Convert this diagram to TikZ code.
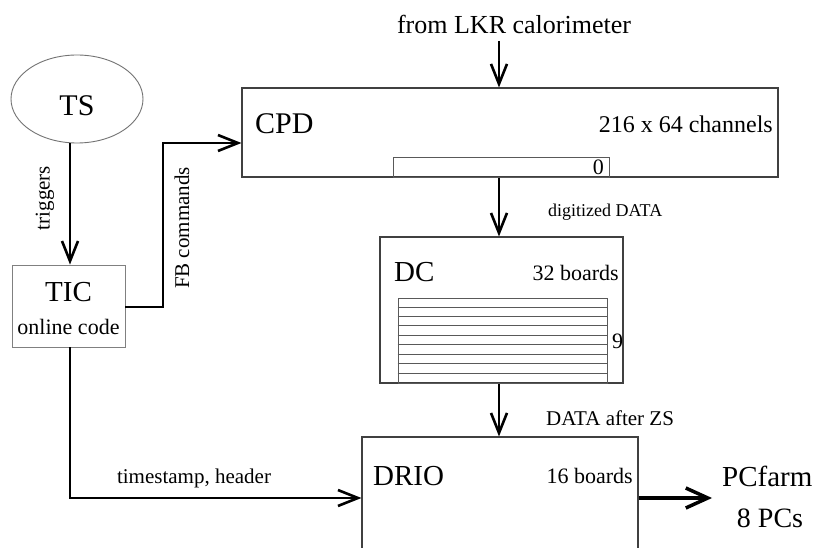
\documentclass[tikz,border=0pt]{standalone}
\usepackage{fontspec}
\setmainfont{Liberation Serif}
\usetikzlibrary{arrows.meta,shapes.geometric}
\tikzset{
  box/.style={draw=black!75, line width=1.1pt, inner sep=0pt, rectangle},
  graybox/.style={draw=black!50, line width=0.9pt, inner sep=0pt, rectangle},
  conn/.style={line width=2.8pt, -{Straight Barb[length=20pt,width=16pt,line width=2.6pt]}},
  bigconn/.style={line width=4.5pt, -{Straight Barb[length=22pt,width=20pt,line width=3.5pt]}},
  lbl/.style={inner sep=0pt, font=\fontsize{#1}{#1}\selectfont},
  lbl/.default=22
}
\begin{document}
\begin{tikzpicture}[x=1pt,y=-1pt]
\useasboundingbox[fill=white] (0,0) rectangle (817,548);

% boxes
\node[box, minimum width=536pt, minimum height=89pt] (cpd) at (510,132.5) {};
\node[box, minimum width=243pt, minimum height=146pt] (dc) at (501.5,310) {};
\node[box, minimum width=276pt, minimum height=140pt] (drio) at (500,507) {};
\node[graybox, minimum width=113pt, minimum height=82pt] (tic) at (68.5,306) {};
\node[ellipse, draw=black!55, line width=0.9pt, minimum width=132pt, minimum height=88pt, inner sep=0pt] (ts) at (77,99) {};

% inner boxes
\node[graybox, draw=black!65, minimum width=216pt, minimum height=20pt] (cpdin) at (501,167) {};
\node[graybox, draw=black!65, minimum width=209pt, minimum height=85pt] (dcin) at (502.5,340.5) {};
\foreach \i in {1,...,8} {
  \draw[black!65, line width=0.9pt] ([yshift=-\i*9.44pt]dcin.north west) -- ([yshift=-\i*9.44pt]dcin.north east);
}

% texts
\node[lbl=30] (tstxt) at (77,106) {TS};
\node[lbl=29] (tictxt) at (68.5,292) {TIC};
\node[lbl=22] (ticcode) at (68.5,327) {online code};
\node[lbl=30, anchor=west] (cpdtxt) at (255,124) {CPD};
\node[lbl=24, anchor=east] (cpdch) at (773,124) {216 x 64 channels};
\node[lbl=22, anchor=east] (cpd0) at (604,167) {0};
\node[lbl=29, anchor=west] (dctxt) at (394,272) {DC};
\node[lbl=22, anchor=east] (dcb) at (619,273) {32 boards};
\node[lbl=22, anchor=west] (dc9) at (612,341) {9};
\node[lbl=29, anchor=west] (driotxt) at (373,476) {DRIO};
\node[lbl=22, anchor=east] (driob) at (633,476) {16 boards};
\node[lbl=26] (lkr) at (514,24) {from LKR calorimeter};
\node[lbl=18, anchor=west] (dig) at (548,212) {digitized DATA};
\node[lbl=21, anchor=west] (zs) at (546,418) {DATA after ZS};
\node[lbl=21] (tsh) at (194,478) {timestamp, header};
\node[lbl=29, anchor=west] (pcf) at (722,476) {PCfarm};
\node[lbl=28] (pcs) at (770,518) {8 PCs};
\node[lbl=21, rotate=90] (trig) at (45,198) {triggers};
\node[lbl=21, rotate=90] (fbc) at (182,228) {FB commands};

% coordinates
\coordinate (lkrin) at (499,41);
\coordinate (fbx) at (163,307);
\coordinate (fby) at (163,143);
\coordinate (tsturn) at (70,498);
\coordinate (pctip) at (712,498);

% connectors
\draw[conn] (lkrin) -- (lkrin |- cpd.north);
\draw[conn] (lkrin |- cpd.south) -- (lkrin |- dc.north);
\draw[conn] (lkrin |- dc.south) -- (lkrin |- drio.north);
\draw[conn] (ts.south -| tsturn) -- (tsturn |- tic.north);
\draw[conn] (tic.east |- fbx) -- (fbx) -- (fby) -- (cpd.west |- fby);
\draw[conn] (tsturn |- tic.south) -- (tsturn) -- (drio.west |- tsturn);
\draw[bigconn] (drio.east |- pctip) -- (pctip);
\end{tikzpicture}
\end{document}
